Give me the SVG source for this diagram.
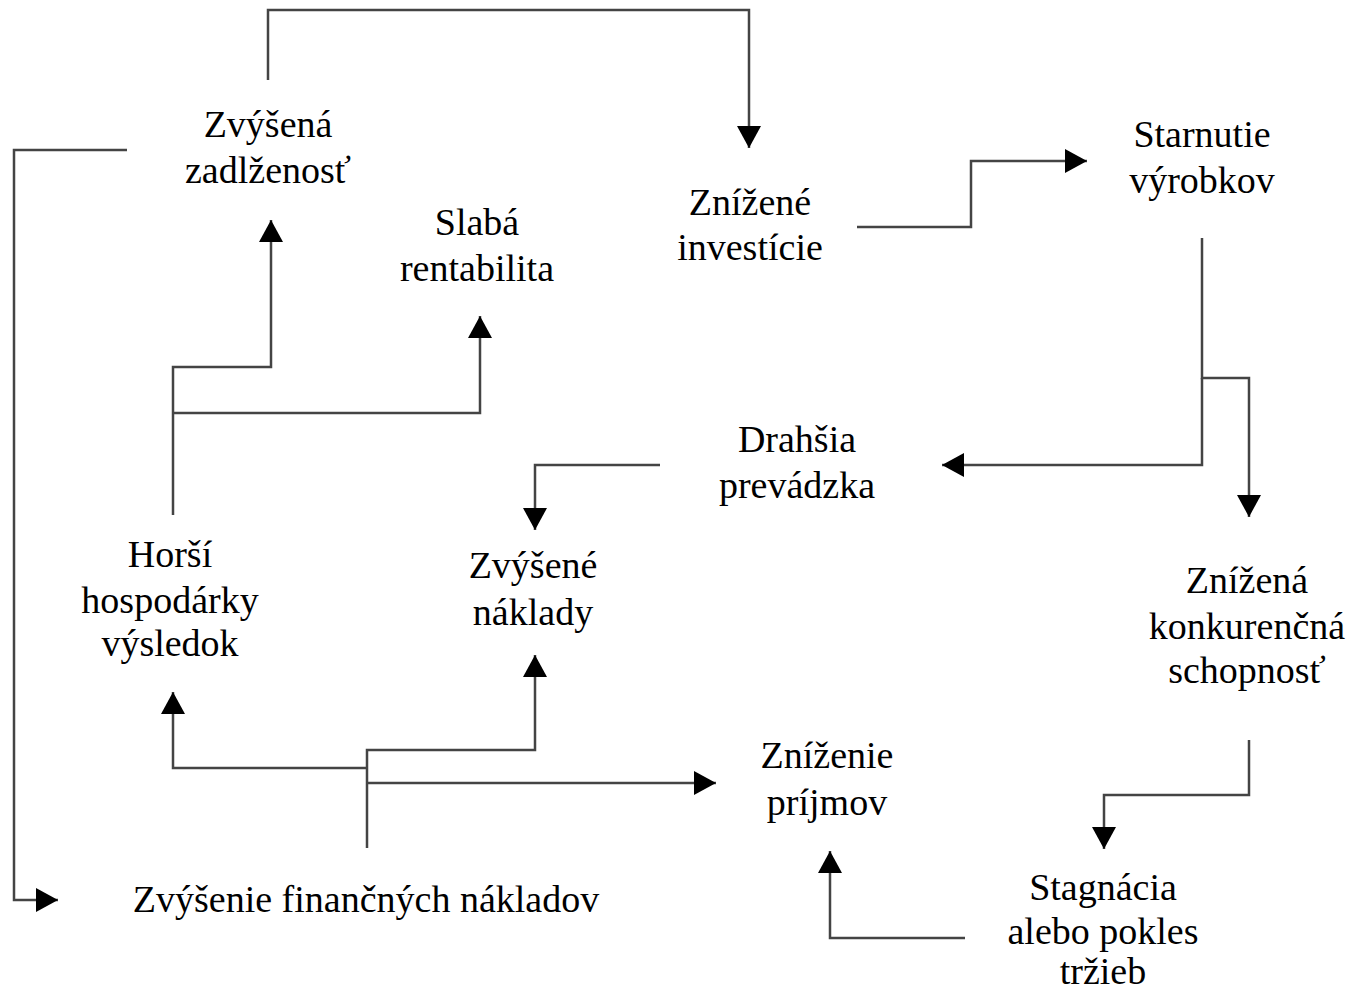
<svg xmlns="http://www.w3.org/2000/svg" width="1350" height="995" viewBox="0 0 1350 995">
<style>
.t{font-family:"Liberation Serif","Times New Roman",serif;font-size:38px;fill:#000;text-anchor:middle}
.c{fill:none;stroke:#444;stroke-width:2.5;marker-end:url(#a)}
</style>
<defs>
<marker id="a" markerUnits="userSpaceOnUse" markerWidth="24" markerHeight="26" refX="22" refY="12" orient="auto">
<path d="M0,0 L22,12 L0,24 Z" fill="#000"/>
</marker>
</defs>
<rect width="1350" height="995" fill="#fff"/>
<g id="connectors">
<path class="c" d="M268,80 V10 H749 V148"/>
<path class="c" d="M857,227 H971 V161 H1087"/>
<path class="c" d="M1202,238 V378 H1249 V517"/>
<path class="c" d="M1202,378 V465 H942"/>
<path class="c" d="M660,465 H535 V530"/>
<path class="c" d="M1249,740 V795 H1104 V849"/>
<path class="c" d="M965,938 H830 V851"/>
<path class="c" d="M367,848 V750 H535 V655"/>
<path class="c" d="M367,768 H173 V692"/>
<path class="c" d="M367,783 H716"/>
<path class="c" d="M173,515 V367 H271 V220"/>
<path class="c" d="M173,413 H480 V316"/>
<path class="c" d="M127,150 H14 V900 H58"/>
</g>
<g id="n-zadlzenost"><text class="t" x="268" y="137">Zvýšená</text><text class="t" x="268" y="183">zadlženosť</text></g>
<g id="n-rentabilita"><text class="t" x="477" y="235">Slabá</text><text class="t" x="477" y="281">rentabilita</text></g>
<g id="n-investicie"><text class="t" x="750" y="215">Znížené</text><text class="t" x="750" y="260">investície</text></g>
<g id="n-starnutie"><text class="t" x="1202" y="147">Starnutie</text><text class="t" x="1202" y="193">výrobkov</text></g>
<g id="n-prevadzka"><text class="t" x="797" y="452">Drahšia</text><text class="t" x="797" y="498">prevádzka</text></g>
<g id="n-vysledok"><text class="t" x="170" y="567">Horší</text><text class="t" x="170" y="613">hospodárky</text><text class="t" x="170" y="656">výsledok</text></g>
<g id="n-naklady"><text class="t" x="533" y="578">Zvýšené</text><text class="t" x="533" y="625">náklady</text></g>
<g id="n-konkurencna"><text class="t" x="1247" y="593">Znížená</text><text class="t" x="1247" y="639">konkurenčná</text><text class="t" x="1247" y="683">schopnosť</text></g>
<g id="n-prijmy"><text class="t" x="827" y="768">Zníženie</text><text class="t" x="827" y="815">príjmov</text></g>
<g id="n-trzby"><text class="t" x="1103" y="900">Stagnácia</text><text class="t" x="1103" y="944">alebo pokles</text><text class="t" x="1103" y="984">tržieb</text></g>
<g id="n-financne"><text class="t" x="366" y="912">Zvýšenie finančných nákladov</text></g>
</svg>
